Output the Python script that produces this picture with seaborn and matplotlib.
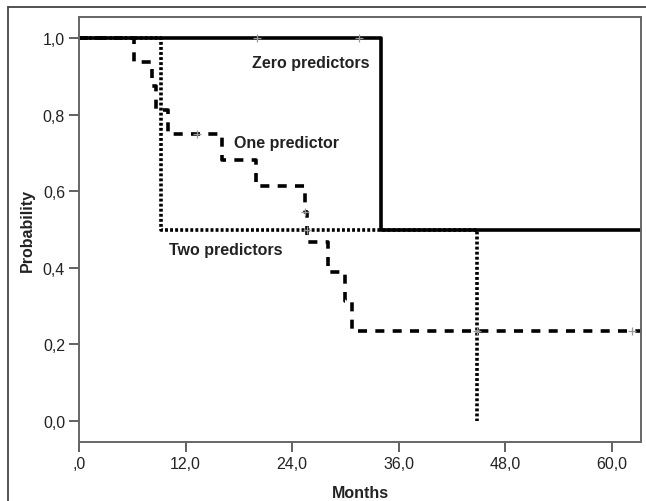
import matplotlib
matplotlib.use('Agg')
import matplotlib.pyplot as plt
import seaborn as sns
import pandas as pd
from matplotlib.lines import Line2D

# Kaplan-Meier step curves (months, survival probability)
zero_t = [0, 34.0, 63.3]
zero_s = [1.0, 0.5, 0.5]
zero_cens_t = [20.1, 31.5]
zero_cens_s = [1.0, 1.0]

one_t = [0, 6.2, 8.2, 8.7, 10.0, 16.1, 19.9, 25.4, 25.7, 28.1, 30.0, 30.8, 63.3]
one_s = [1.0, 0.9375, 0.875, 0.8125, 0.75, 0.682, 0.614, 0.546, 0.468, 0.39, 0.312, 0.234, 0.234]
one_cens_t = [13.3, 25.5, 44.8, 62.3]
one_cens_s = [0.75, 0.546, 0.234, 0.234]

two_t = [0, 9.2, 44.8]
two_s = [1.0, 0.5, 0.0]
two_cens_t = [25.7]
two_cens_s = [0.5]

labels = ['Zero predictors', 'One predictor', 'Two predictors']
label_x = [26.1, 23.4, 16.5]
label_y = [0.937, 0.728, 0.449]

xticks = [0, 12, 24, 36, 48, 60]
xticklabels = [',0', '12,0', '24,0', '36,0', '48,0', '60,0']
yticks = [0.0, 0.2, 0.4, 0.6, 0.8, 1.0]
yticklabels = ['0,0', '0,2', '0,4', '0,6', '0,8', '1,0']

sns.set_style('white')
plt.rcParams['font.family'] = ['Liberation Sans', 'DejaVu Sans']

fig = plt.figure(figsize=(6.46, 5.02), dpi=100)
ax = fig.add_axes([0.1223, 0.1175, 0.87, 0.8466])

df_zero = pd.DataFrame({'t': zero_t, 's': zero_s})
df_one = pd.DataFrame({'t': one_t, 's': one_s})
df_two = pd.DataFrame({'t': two_t, 's': two_s})

sns.lineplot(data=df_zero, x='t', y='s', ax=ax, color='black', lw=2.6,
             drawstyle='steps-post', estimator=None, sort=False)
sns.lineplot(data=df_two, x='t', y='s', ax=ax, color='black', lw=2.6,
             drawstyle='steps-post', estimator=None, sort=False)
ax.lines[-1].set_linestyle((0, (0.8, 0.6)))
sns.lineplot(data=df_one, x='t', y='s', ax=ax, color='black', lw=2.6,
             drawstyle='steps-post', estimator=None, sort=False)
ax.lines[-1].set_linestyle((0, (2.5, 2.3)))

for ct, cs in [(zero_cens_t, zero_cens_s), (one_cens_t, one_cens_s), (two_cens_t, two_cens_s)]:
    sns.scatterplot(x=ct, y=cs, ax=ax, marker='+', s=30, color='#9a9a9a', linewidth=0.9, zorder=5)

for lab, lx, ly in zip(labels, label_x, label_y):
    ax.text(lx, ly, lab, ha='center', va='center', fontsize=11.5, fontweight='bold', color='#222222')

ax.set_xlim(0, 63.3)
ax.set_ylim(-0.055, 1.055)
ax.set_xticks(xticks)
ax.set_xticklabels(xticklabels)
ax.set_yticks(yticks)
ax.set_yticklabels(yticklabels)
ax.tick_params(axis='both', direction='out', length=7, width=1.3, color='#555555',
               labelsize=11.5, labelcolor='#222222', left=True, bottom=True, pad=3)
for sp in ax.spines.values():
    sp.set_color('#666666')
    sp.set_linewidth(1.4)
ax.set_xlabel('Months', fontsize=11.5, fontweight='bold', color='#222222', labelpad=10)
ax.set_ylabel('Probability', fontsize=11.5, fontweight='bold', color='#222222', labelpad=6)

# outer frame
fig.add_artist(Line2D([8 / 646, 8 / 646], [0, 1 - 8 / 502], transform=fig.transFigure, color='#444444', lw=1.3))
fig.add_artist(Line2D([8 / 646, 1], [1 - 8 / 502, 1 - 8 / 502], transform=fig.transFigure, color='#444444', lw=1.3))

fig.savefig('out.png', dpi=100)
